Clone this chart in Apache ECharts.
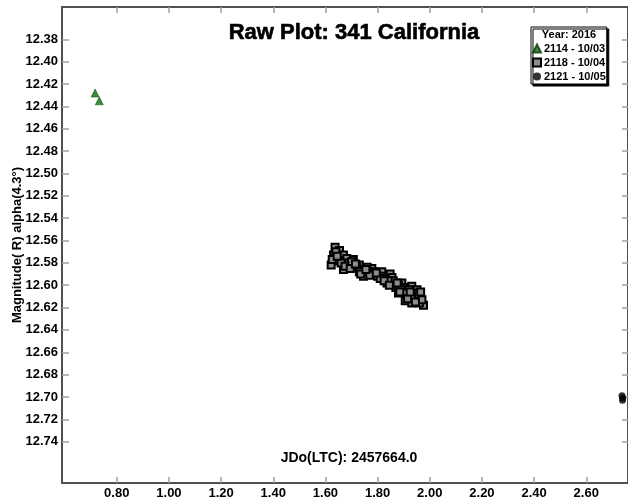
<!DOCTYPE html>
<html>
<head>
<meta charset="utf-8">
<script src="https://cdn.jsdelivr.net/npm/echarts@6/dist/echarts.min.js"></script>
<style>html,body{margin:0;padding:0;background:#fff}#c{width:628px;height:502px}</style>
</head>
<body>
<div id="c"></div>
<script>
// Tick labels
const xTicks = [0.80, 1.00, 1.20, 1.40, 1.60, 1.80, 2.00, 2.20, 2.40, 2.60];
const yTicks = [12.38, 12.40, 12.42, 12.44, 12.46, 12.48, 12.50, 12.52, 12.54, 12.56, 12.58, 12.60, 12.62, 12.64, 12.66, 12.68, 12.70, 12.72, 12.74];
// Series names
const seriesNames = ['2114 - 10/03', '2118 - 10/04', '2121 - 10/05'];
// Series 2114 (x = JD offset, y = magnitude)
const s2114x = [0.717, 0.733];
const s2114y = [12.428, 12.435];
// Series 2118
const s2118x = [1.637, 1.654, 1.631, 1.622, 1.641, 1.669, 1.682, 1.707, 1.669, 1.701, 1.730, 1.740, 1.746, 1.778, 1.784, 1.816, 1.848, 1.855, 1.836, 1.867, 1.893, 1.899, 1.880, 1.912, 1.931, 1.951, 1.963, 1.906, 1.931, 1.976, 1.957, 1.944,
  1.650, 1.660, 1.690, 1.720, 1.750, 1.760, 1.790, 1.800, 1.820, 1.830, 1.860, 1.870, 1.880, 1.900, 1.920, 1.940, 1.960, 1.950, 1.970, 1.640, 1.700, 1.730, 1.770, 1.810, 1.840, 1.890, 1.910, 1.930,
  1.626, 1.645, 1.675, 1.695, 1.715, 1.735, 1.755, 1.795, 1.825, 1.845, 1.875, 1.885, 1.915, 1.925, 1.945, 1.965];
const s2118y = [12.566, 12.569, 12.573, 12.582, 12.576, 12.573, 12.576, 12.577, 12.586, 12.583, 12.582, 12.586, 12.592, 12.585, 12.590, 12.588, 12.590, 12.593, 12.598, 12.599, 12.598, 12.602, 12.607, 12.610, 12.601, 12.604, 12.610, 12.614, 12.616, 12.618, 12.613, 12.607,
  12.578, 12.580, 12.580, 12.584, 12.588, 12.584, 12.588, 12.592, 12.592, 12.594, 12.596, 12.602, 12.600, 12.606, 12.604, 12.612, 12.616, 12.608, 12.613, 12.570, 12.579, 12.588, 12.591, 12.594, 12.596, 12.604, 12.607, 12.610,
  12.577, 12.574, 12.583, 12.585, 12.581, 12.590, 12.586, 12.589, 12.596, 12.600, 12.598, 12.606, 12.612, 12.606, 12.615, 12.606];
// Series 2121
const s2121x = [2.737, 2.740, 2.739];
const s2121y = [12.699, 12.701, 12.703];

const toPairs = (xs, ys) => xs.map((x, i) => [x, ys[i]]);
const FONT = '"Liberation Sans", Arial, sans-serif';

const chart = echarts.init(document.getElementById('c'), null, {renderer: 'canvas'});
const axisLine = {show: true, lineStyle: {color: '#505050', width: 2}};
const tickStyle = {color: '#a0a0a0', width: 1.5};
const labelStyle = {color: '#000', fontFamily: FONT, fontWeight: 'bold', fontSize: 13};

chart.setOption({
  animation: false,
  backgroundColor: '#fff',
  title: {
    text: 'Raw Plot: 341 California',
    left: 349, top: 17, textAlign: 'center',
    textStyle: {fontFamily: FONT, fontWeight: 'bold', fontSize: 22, color: '#000',
      textBorderColor: '#000', textBorderWidth: 0.6}
  },
  grid: {left: 62, top: 7, right: 0, bottom: 19, containLabel: false},
  legend: {
    orient: 'vertical',
    left: 531, top: 27,
    padding: [16, 1, 2, 1],
    itemWidth: 8, itemHeight: 8, itemGap: 3,
    backgroundColor: '#fff',
    borderColor: '#000', borderWidth: 1,
    shadowColor: '#000', shadowOffsetX: 2, shadowOffsetY: 2, shadowBlur: 0,
    textStyle: {fontFamily: FONT, fontWeight: 'bold', fontSize: 11, color: '#000', lineHeight: 8, padding: [0, 0, 0, -2]},
    data: seriesNames,
    selectedMode: false
  },
  graphic: [
    {type: 'text', x: 569, y: 35, z: 100,
      style: {text: 'Year: 2016', fontFamily: FONT, fontWeight: 'bold', fontSize: 11, fill: '#000', align: 'center', verticalAlign: 'middle'}},
    {type: 'text', x: 349, y: 458, z: 100,
      style: {text: 'JDo(LTC): 2457664.0', fontFamily: FONT, fontWeight: 'bold', fontSize: 14, fill: '#000', align: 'center', verticalAlign: 'middle'}},
    {type: 'text', x: 17, y: 245, rotation: Math.PI / 2, z: 100,
      style: {text: 'Magnitude( R) alpha(4.3°)', fontFamily: FONT, fontWeight: 'bold', fontSize: 13, fill: '#000', align: 'center', verticalAlign: 'middle'}}
  ],
  xAxis: [
    {type: 'value', position: 'bottom', min: 0.59, max: 2.76,
      axisLine: axisLine, splitLine: {show: false},
      axisTick: {show: true, inside: true, length: 6, lineStyle: tickStyle, customValues: xTicks},
      axisLabel: Object.assign({margin: 4, customValues: xTicks, formatter: v => v.toFixed(2)}, labelStyle)},
    {type: 'value', position: 'top', min: 0.59, max: 2.76,
      axisLine: axisLine, splitLine: {show: false},
      axisTick: {show: true, inside: true, length: 6, lineStyle: tickStyle, customValues: xTicks},
      axisLabel: {show: false}}
  ],
  yAxis: [
    {type: 'value', position: 'left', inverse: true, min: 12.351, max: 12.777,
      axisLine: axisLine, splitLine: {show: false},
      axisTick: {show: true, inside: true, length: 7, lineStyle: tickStyle, customValues: yTicks},
      axisLabel: Object.assign({margin: 4, customValues: yTicks, formatter: v => v.toFixed(2)}, labelStyle)},
    {type: 'value', position: 'right', inverse: true, min: 12.351, max: 12.777,
      axisLine: axisLine, splitLine: {show: false},
      axisTick: {show: true, inside: true, length: 6, lineStyle: tickStyle, customValues: yTicks},
      axisLabel: {show: false}}
  ],
  series: [
    {name: seriesNames[0], type: 'scatter', symbol: 'triangle', symbolSize: 8,
      itemStyle: {color: '#0d6e0d', borderColor: '#063806', borderWidth: 0.6},
      data: toPairs(s2114x, s2114y)},
    {name: seriesNames[1], type: 'scatter', symbol: 'rect', symbolSize: 7,
      itemStyle: {color: '#8c8c8c', borderColor: '#000', borderWidth: 2, opacity: 1},
      data: toPairs(s2118x, s2118y)},
    {name: seriesNames[2], type: 'scatter', symbol: 'circle', symbolSize: 7,
      itemStyle: {color: '#000', borderColor: '#000', borderWidth: 0},
      data: toPairs(s2121x, s2121y)}
  ]
});
</script>
</body>
</html>
